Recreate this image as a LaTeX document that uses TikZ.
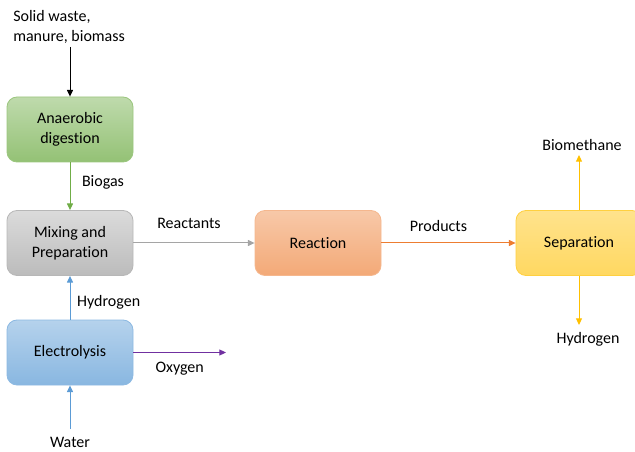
\documentclass[tikz,border=0pt]{standalone}
\usepackage{fontspec}
\setmainfont[Ligatures=NoCommon]{Carlito}
\usetikzlibrary{arrows.meta}
\definecolor{gB}{HTML}{70AD47}
\definecolor{grB}{HTML}{A5A5A5}
\definecolor{bB}{HTML}{5B9BD5}
\definecolor{oB}{HTML}{ED7D31}
\definecolor{yB}{HTML}{FFC000}
\definecolor{pB}{HTML}{7030A0}
\tikzset{
  px/.style={x=0.75pt,y=-0.75pt},
  box/.style={rounded corners=7.5pt, minimum width=94.5pt, minimum height=48.75pt, align=center, font=\fontsize{12}{15}\selectfont, line width=0.6pt},
  lbl/.style={font=\fontsize{12}{15}\selectfont, inner sep=0pt},
  arr/.style={-{Triangle[length=5pt,width=4.5pt]}, line width=0.75pt},
}
\begin{document}
\begin{tikzpicture}[px]
\useasboundingbox (0,0) rectangle (635,452);
\clip (0,0) rectangle (635,452);
\node[box, draw=gB!70, top color=gB!45, bottom color=gB!75] (ad) at (70,129.5) {Anaerobic\\digestion};
\node[box, draw=grB!80, top color=grB!40, bottom color=grB!75] (mix) at (70,243) {Mixing and\\Preparation};
\node[box, draw=bB!70, top color=bB!45, bottom color=bB!72] (el) at (70,352.5) {Electrolysis};
\node[box, draw=oB!55, top color=oB!42, bottom color=oB!66] (re) at (318,243) {Reaction};
\node[box, draw=yB!75, top color=yB!45, bottom color=yB!62] (se) at (579,243) {Separation};

\node[lbl, anchor=west, align=left] (src) at (13,27) {Solid waste,\\manure, biomass};
\coordinate (srcend) at (70,47);
\node[lbl] (water) at (70,442) {Water};
\coordinate (waterend) at (70,429);
\coordinate (oxend) at (226,352.5);
\coordinate (bmend) at (579,155);
\coordinate (h2end) at (579,325);
\node[lbl] (bm) at (582,145) {Biomethane};
\node[lbl] (h2) at (588,339) {Hydrogen};

\draw[arr, black] (srcend) -- (ad.north);
\draw[arr, gB] (ad.south) -- (mix.north) node[midway, lbl, black, xshift=24.75pt, yshift=2.6pt] {Biogas};
\draw[arr, bB] (el.north) -- (mix.south) node[midway, lbl, black, xshift=29pt, yshift=-3.75pt] {Hydrogen};
\draw[arr, bB] (waterend) -- (el.south);
\draw[arr, pB] (el.east) -- (oxend) node[midway, lbl, black, yshift=-12.5pt] {Oxygen};
\draw[arr, grB] (mix.east) -- (re.west) node[midway, lbl, black, xshift=-3.75pt, yshift=15pt] {Reactants};
\draw[arr, oB] (re.east) -- (se.west) node[midway, lbl, black, xshift=-7.5pt, yshift=12.75pt] {Products};
\draw[arr, yB] (se.north) -- (bmend);
\draw[arr, yB] (se.south) -- (h2end);
\end{tikzpicture}
\end{document}
